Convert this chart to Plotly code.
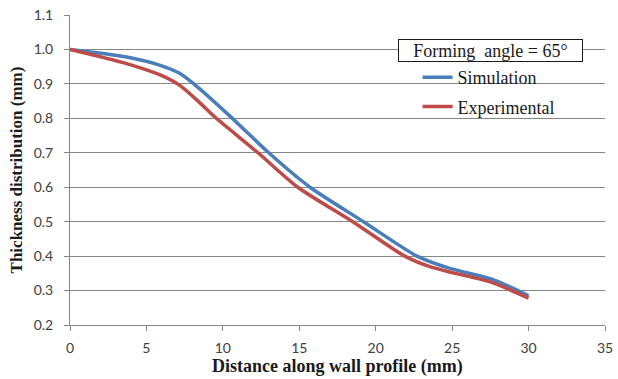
import plotly.graph_objects as go

# Wall thickness along the profile, forming angle 65°
sim_x = [0, 3.7, 5.9, 7.2, 8.5, 10.5, 13, 15.7, 19.2, 22.7, 24.8, 27.6, 30]
sim_y = [1.0, 0.978, 0.954, 0.93, 0.885, 0.805, 0.7, 0.6, 0.5, 0.4, 0.365, 0.333, 0.285]

exp_x = [0, 3.7, 5.9, 7.2, 8.5, 9.5, 12.3, 14.9, 18.5, 21.9, 23.5, 25, 27.5, 30]
exp_y = [1.0, 0.959, 0.926, 0.895, 0.845, 0.803, 0.7, 0.6, 0.5, 0.4, 0.37, 0.352, 0.325, 0.278]

x_ticks = [0, 5, 10, 15, 20, 25, 30, 35]
y_ticks = [0.2, 0.3, 0.4, 0.5, 0.6, 0.7, 0.8, 0.9, 1.0, 1.1]

serif = "Liberation Serif"
sans = "Lato"
axis_grey = "#868686"
text_dark = "#1a1a1a"

fig = go.Figure()
fig.add_trace(go.Scatter(
    x=sim_x, y=sim_y, mode="lines", name="Simulation",
    line=dict(color="#4A7EBB", width=3.5, shape="spline", smoothing=0.7),
    legendgroup="a",
))
fig.add_trace(go.Scatter(
    x=exp_x, y=exp_y, mode="lines", name="Experimental",
    line=dict(color="#BE4B48", width=3.5, shape="spline", smoothing=0.7),
    legendgroup="b",
))

fig.update_layout(
    width=618, height=379,
    margin=dict(l=70, r=13, t=15, b=54, autoexpand=False),
    paper_bgcolor="white", plot_bgcolor="white",
    showlegend=True,
    legend=dict(
        x=0.6497, y=0.858, xanchor="left", yanchor="top",
        bgcolor="rgba(0,0,0,0)", borderwidth=0,
        font=dict(family=serif, size=18, color=text_dark),
        tracegroupgap=3, itemwidth=30,
    ),
    xaxis=dict(
        range=[0, 35], tickvals=x_ticks, ticktext=[str(v) for v in x_ticks],
        showgrid=False, zeroline=False, automargin=False,
        showline=True, linecolor=axis_grey, linewidth=1,
        ticks="outside", ticklen=5, tickcolor=axis_grey,
        ticklabelstandoff=5,
        tickfont=dict(family=sans, size=14, color="#404040"),
    ),
    yaxis=dict(
        range=[0.2, 1.1], tickvals=y_ticks, ticktext=[f"{v:.1f}" for v in y_ticks],
        showgrid=True, gridcolor=axis_grey, gridwidth=1, zeroline=False,
        automargin=False,
        showline=True, linecolor=axis_grey, linewidth=1,
        ticks="outside", ticklen=5, tickcolor=axis_grey,
        ticklabelstandoff=8,
        tickfont=dict(family=sans, size=14, color="#404040"),
        title=dict(text="<b>Thickness distribution (mm)</b>",
                   font=dict(family=serif, size=17, color=text_dark), standoff=6),
    ),
    annotations=[
        dict(
            text="Forming  angle = 65°", xref="paper", yref="paper",
            x=0.959, y=0.884, xanchor="right", yanchor="middle",
            showarrow=False, font=dict(family=serif, size=18, color=text_dark),
            bordercolor=text_dark, borderwidth=1, borderpad=0, width=183, height=21,
            bgcolor="white",
        ),
        dict(
            text="<b>Distance along wall profile (mm)</b>", xref="paper", yref="paper",
            x=0.5, y=-0.133, xanchor="center", yanchor="middle",
            showarrow=False, font=dict(family=serif, size=18, color=text_dark),
        ),
    ],
)

fig.write_html("out.html")
